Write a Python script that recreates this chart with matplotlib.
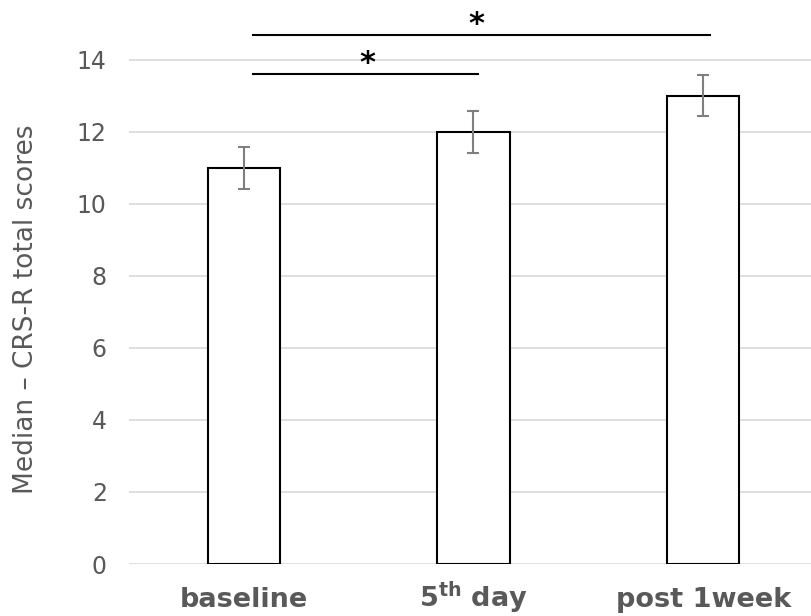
import matplotlib
matplotlib.use("Agg")
import matplotlib.pyplot as plt

categories = ["baseline", r"5$^{\mathbf{th}}$ day", "post 1week"]
medians = [11, 12, 13]
errors = [0.58, 0.58, 0.58]
yticks = [0, 2, 4, 6, 8, 10, 12, 14]
# significance brackets: (x start, x end, y level, star x)
sig_pairs = [(0.04, 1.02, 13.61, 0.538), (0.04, 2.03, 14.69, 1.011)]

fig = plt.figure(figsize=(8.12, 6.16), dpi=100)
ax = fig.add_axes([129/812, 52/616, 1 - 129/812, (616 - 52 - 5.5)/616])

x = list(range(len(categories)))
ax.bar(x, medians, width=0.314, color="white", edgecolor="black", linewidth=1.5, zorder=3)
ax.errorbar(x, medians, yerr=errors, fmt="none", ecolor="#7f7f7f", elinewidth=1.5,
            capsize=4.5, capthick=1.5, zorder=4)

for (x0, x1, y, sx) in sig_pairs:
    ax.plot([x0, x1], [y, y], color="black", linewidth=1.5, zorder=5, clip_on=False)
    ax.text(sx, y + 0.055, "*", ha="center", va="baseline",
            fontsize=22, fontweight="bold", color="black")

ax.set_xlim(-0.5, 2.474)
ax.set_ylim(0, 15.5)
ax.set_yticks(yticks)
ax.set_xticks(x)
ax.set_xticklabels(categories, fontsize=19.5, fontweight="bold", color="#595959",
                   va="baseline")
ax.tick_params(axis="y", labelsize=17, labelcolor="#595959", length=0, pad=16)
ax.tick_params(axis="x", length=0, pad=31)
ax.grid(axis="y", color="#d9d9d9", linewidth=1.2, zorder=0)
ax.set_axisbelow(True)
for s in ax.spines.values():
    s.set_visible(False)
ax.set_ylabel("Median \u2013 CRS-R total scores", fontsize=19, color="#595959")
ax.yaxis.set_label_coords(-0.1324, 0.4566)

fig.savefig("out.png", dpi=100)
